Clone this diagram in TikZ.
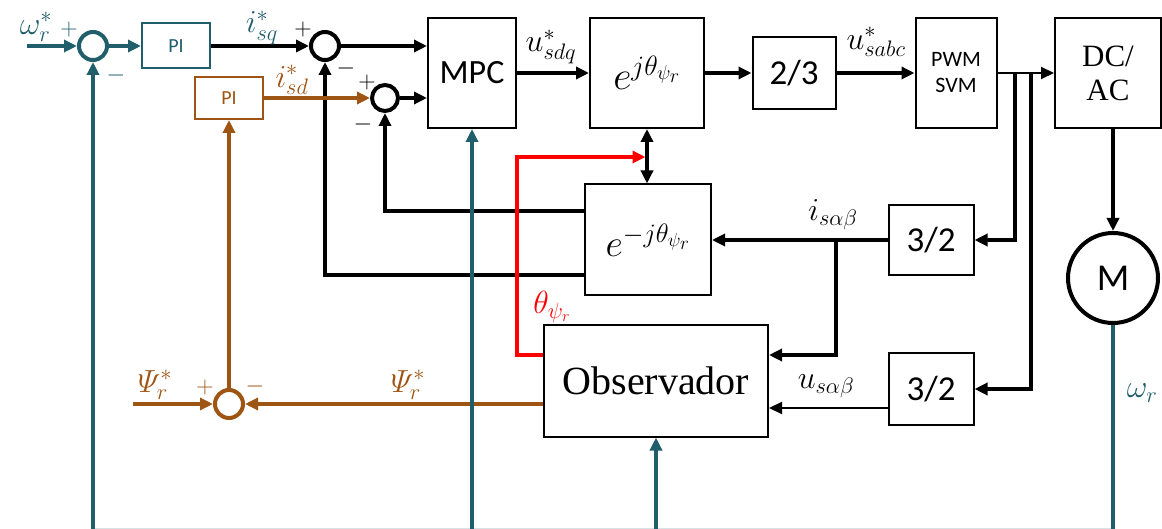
\RequirePackage{fix-cm}
\documentclass[tikz,border=0pt]{standalone}
\usepackage{amsmath}
\usepackage[no-math]{fontspec}
\setmainfont{Liberation Serif}
\newfontfamily\calib{Carlito}
\usepackage{tikz}
\usetikzlibrary{arrows.meta,calc}
\definecolor{ctrlteal}{RGB}{33,94,108}
\definecolor{fluxbrown}{RGB}{158,84,18}
\tikzset{
  blk/.style={draw,line width=2pt,inner sep=0pt,align=center},
  sumnode/.style={circle,draw,line width=4pt,minimum size=28pt,inner sep=0pt},
  sig/.style={line width=3.5pt},
  lbl/.style={font=\fontsize{32}{36}\selectfont},
  sgn/.style={font=\fontsize{24}{26}\selectfont}
}

\begin{document}
\begin{tikzpicture}[x=1pt,y=-1pt,>={Triangle[length=13pt,width=12pt]}]
  \useasboundingbox (0,0) rectangle (1162,529);
  % blocks
  \node[blk,ctrlteal,minimum width=68pt,minimum height=45pt,font=\calib\fontsize{20}{22}\selectfont] (pi1) at (176,46) {PI};
  \node[blk,fluxbrown,minimum width=68pt,minimum height=42pt,font=\calib\fontsize{20}{22}\selectfont] (pi2) at (229,98) {PI};
  \node[blk,minimum width=88pt,minimum height=110pt,font=\calib\fontsize{34}{38}\selectfont] (mpc) at (472,73) {MPC};
  \node[blk,minimum width=114pt,minimum height=110pt,font=\fontsize{40}{44}\selectfont] (ej) at (647,73) {$e^{j\theta_{\psi_r}}$};
  \node[blk,minimum width=83pt,minimum height=72pt,font=\calib\fontsize{35}{38}\selectfont] (c23) at (794,73) {2/3};
  \node[blk,minimum width=81pt,minimum height=110pt,font=\calib\fontsize{22}{26}\selectfont] (pwm) at (956,73) {PWM\\SVM};
  \node[blk,minimum width=106pt,minimum height=110pt,font=\fontsize{31}{34}\selectfont] (dcac) at (1108,73) {DC/\\AC};
  \node[blk,minimum width=126pt,minimum height=111pt,font=\fontsize{38}{42}\selectfont] (ejm) at (648,240) {$e^{-j\theta_{\psi_r}}$};
  \node[blk,minimum width=85pt,minimum height=70pt,font=\calib\fontsize{35}{38}\selectfont] (c32a) at (931,240) {3/2};
  \node[blk,minimum width=85pt,minimum height=72pt,font=\calib\fontsize{35}{38}\selectfont] (c32b) at (931,389) {3/2};
  \node[blk,minimum width=224pt,minimum height=111pt,font=\fontsize{40}{44}\selectfont] (obs) at (656,381) {Observador};
  \node[circle,draw,line width=4pt,minimum size=90pt,inner sep=0pt,font=\calib\fontsize{38}{40}\selectfont] (motor) at (1113,278) {M};
  % summing points
  \node[sumnode,ctrlteal] (s1) at (93,46) {};
  \node[sumnode] (s2) at (325,46) {};
  \node[sumnode,minimum size=26pt] (s3) at (385,98) {};
  \node[sumnode,fluxbrown] (s4) at (229,404) {};
  % free ends
  \coordinate (win) at (27,46);
  \coordinate (psin) at (133,404);
  \coordinate (brA) at (1015,73);
  \coordinate (brB) at (1031,73);
  \coordinate (brI) at (836,240);
  \coordinate (rc) at (517,157);
  \coordinate (b1) at (93,529);
  \coordinate (b2) at (mpc |- 0,529);
  \coordinate (b3) at (obs |- 0,529);
  \coordinate (b4) at (motor |- 0,529);
  % black signals
  \draw[sig,->] (pi1) -- (s2);
  \draw[sig,->] (s2) -- (s2 -| mpc.west);
  \draw[sig,->] (s3) -- (s3 -| mpc.west);
  \draw[sig,->] (ejm.west |- 0,275) -| (s2);
  \draw[sig,->] (ejm.west |- 0,211) -| (s3);
  \draw[sig,->] (mpc) -- (ej);
  \draw[sig,->] (ej) -- (c23);
  \draw[sig,->] (c23) -- (pwm);
  \draw[line width=2pt,->] (pwm) -- (dcac);
  \draw[sig,->] (brA) |- (c32a);
  \draw[sig,->] (brB) |- (c32b);
  \draw[sig,->] (dcac.south -| motor) -- (motor);
  \draw[sig,<->] (ej.south) -- (ej.south |- ejm.north);
  \draw[sig,->] (c32a) -- (ejm);
  \draw[sig,->] (brI) |- (obs.east |- 0,355);
  \draw[line width=2pt,->] (c32b.west |- 0,408) -- (obs.east |- 0,408);
  % flux loop
  \draw[sig,fluxbrown,->] (psin) -- (s4);
  \draw[sig,fluxbrown,->] (obs.west |- s4) -- (s4);
  \draw[sig,fluxbrown,->] (s4) -- (pi2);
  \draw[sig,fluxbrown,->] (pi2) -- (s3);
  % angle
  \draw[sig,red,->] (obs.west |- 0,355) -| (rc) -- ([xshift=-1.5pt]rc -| ej.south);
  % speed loop
  \draw[ctrlteal!18,line width=1.5pt] (b1) -- (b4);
  \draw[sig,ctrlteal,->] (win) -- (s1);
  \draw[sig,ctrlteal,->] (s1) -- (pi1);
  \draw[sig,ctrlteal,->] (b1) -- (s1);
  \draw[sig,ctrlteal,->] (b2) -- (mpc);
  \draw[sig,ctrlteal,->] (b3) -- (obs);
  \draw[sig,ctrlteal] (motor) -- (b4);
  % labels
  \node[lbl,ctrlteal] at (36,27) {$\omega_r^*$};
  \node[sgn,ctrlteal] at (69,30) {$+$};
  \node[sgn,ctrlteal] at (116,76) {$-$};
  \node[lbl,ctrlteal] at (262,28) {$i_{sq}^*$};
  \node[sgn] at (303,30) {$+$};
  \node[sgn] at (346,69) {$-$};
  \node[lbl,fluxbrown] at (292,80) {$i_{sd}^*$};
  \node[sgn] at (367,83) {$+$};
  \node[sgn] at (363,125) {$-$};
  \node[lbl] at (551,47) {$u_{sdq}^*$};
  \node[lbl] at (876,42) {$u_{sabc}^*$};
  \node[lbl] at (833,215) {$i_{s\alpha\beta}$};
  \node[lbl] at (826,386) {$u_{s\alpha\beta}$};
  \node[lbl,red] at (552,307) {$\theta_{\psi_r}$};
  \node[lbl,fluxbrown] at (155,385) {$\varPsi_r^*$};
  \node[lbl,fluxbrown] at (408,385) {$\varPsi_r^*$};
  \node[sgn,fluxbrown] at (205,388) {$+$};
  \node[sgn,fluxbrown] at (255,386) {$-$};
  \node[lbl,ctrlteal] at (1142,393) {$\omega_r$};
\end{tikzpicture}
\end{document}
